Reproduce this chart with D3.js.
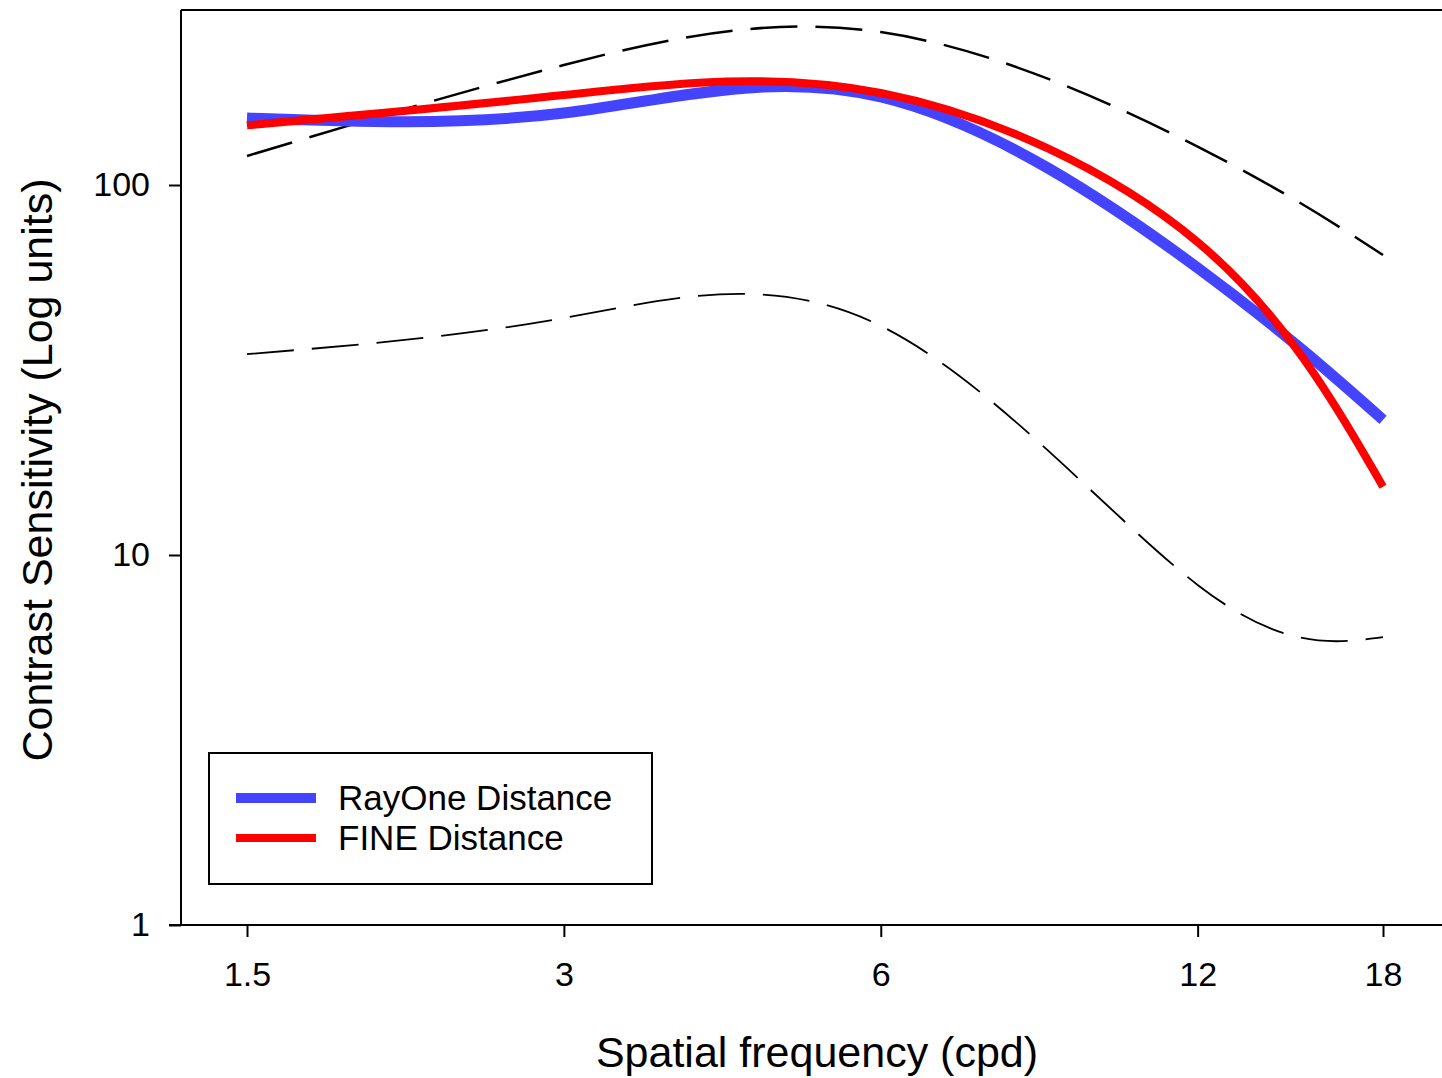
<!DOCTYPE html>
<html>
<head>
<meta charset="utf-8">
<script src="https://cdn.jsdelivr.net/npm/d3@7"></script>
<style>
  body { margin: 0; background: #fff; }
  text { font-family: "Liberation Sans", Arial, sans-serif; fill: #000; }
</style>
</head>
<body>
<div id="container"></div>
<script>
// spatial frequencies (cpd)
const freqs = [1.5, 3, 6, 12, 18];
const rayOne = [151.7, 156.5, 172.9, 59.7, 23.2];
const fine = [145, 175, 177.3, 70.1, 15.3];
const upperBound = [119.8, 211, 259, 127, 64.7];
const lowerBound = [34.9, 43.7, 41.6, 8.3, 6.0];
const yTicks = [1, 10, 100];

const width = 1442, height = 1078;
const margin = { top: 10, right: 0, bottom: 153, left: 181 };
const w = width - margin.left - margin.right;
const h = height - margin.top - margin.bottom;

const svg = d3.select("#container")
  .append("svg")
  .attr("width", width)
  .attr("height", height);

const g = svg.append("g")
  .attr("transform", `translate(${margin.left},${margin.top})`);

const x = d3.scaleLog().domain([1.5, 18]).range([66, 1202]);
const y = d3.scaleLog().domain([1, 100]).range([h, h - 740]);

// frame: left, top, bottom lines
g.append("line").attr("x1", 0).attr("x2", 0).attr("y1", 0).attr("y2", h)
  .attr("stroke", "#000").attr("stroke-width", 2);
g.append("line").attr("x1", 0).attr("x2", w).attr("y1", 0).attr("y2", 0)
  .attr("stroke", "#000").attr("stroke-width", 2);
g.append("line").attr("x1", -12).attr("x2", w).attr("y1", h).attr("y2", h)
  .attr("stroke", "#000").attr("stroke-width", 2);

// x axis
const xAxis = g.append("g")
  .attr("transform", `translate(0,${h})`)
  .call(d3.axisBottom(x).tickValues(freqs).tickFormat(d3.format("")).tickSize(12).tickPadding(25));
xAxis.select(".domain").remove();
xAxis.selectAll("line").attr("stroke-width", 2);
xAxis.selectAll("text").attr("font-size", 34).attr("font-family", "Liberation Sans, Arial, sans-serif");

// y axis
const yAxis = g.append("g")
  .call(d3.axisLeft(y).tickValues(yTicks).tickFormat(d3.format("")).tickSize(12).tickPadding(19));
yAxis.select(".domain").remove();
yAxis.selectAll("line").attr("stroke-width", 2);
yAxis.selectAll("text").attr("font-size", 34).attr("font-family", "Liberation Sans, Arial, sans-serif");

// axis titles
svg.append("text")
  .attr("x", 817).attr("y", 1067)
  .attr("text-anchor", "middle")
  .attr("font-size", 43)
  .text("Spatial frequency (cpd)");

svg.append("text")
  .attr("transform", `translate(52,470) rotate(-90)`)
  .attr("text-anchor", "middle")
  .attr("font-size", 43)
  .text("Contrast Sensitivity (Log units)");

const line = d3.line()
  .x((d, i) => x(freqs[i]))
  .y(d => y(d))
  .curve(d3.curveNatural);

g.append("path").datum(upperBound)
  .attr("d", line).attr("fill", "none")
  .attr("stroke", "#000").attr("stroke-width", 2.5)
  .attr("stroke-dasharray", "47,18");

g.append("path").datum(lowerBound)
  .attr("d", line).attr("fill", "none")
  .attr("stroke", "#000").attr("stroke-width", 1.8)
  .attr("stroke-dasharray", "47,18");

g.append("path").datum(rayOne)
  .attr("d", line).attr("fill", "none")
  .attr("stroke", "#4444ff").attr("stroke-width", 11);

g.append("path").datum(fine)
  .attr("d", line).attr("fill", "none")
  .attr("stroke", "#ff0000").attr("stroke-width", 8);

// legend
const legend = svg.append("g").attr("transform", "translate(209,753)");
legend.append("rect")
  .attr("width", 443).attr("height", 131)
  .attr("fill", "#fff").attr("stroke", "#000").attr("stroke-width", 2);

const legendItems = [
  { label: "RayOne Distance", color: "#4444ff", sw: 10 },
  { label: "FINE Distance", color: "#ff0000", sw: 8 }
];
legendItems.forEach((item, i) => {
  const yy = 45 + i * 40;
  legend.append("line")
    .attr("x1", 27).attr("x2", 107).attr("y1", yy).attr("y2", yy)
    .attr("stroke", item.color).attr("stroke-width", item.sw);
  legend.append("text")
    .attr("x", 129).attr("y", yy + 12)
    .attr("font-size", 35)
    .text(item.label);
});
</script>
</body>
</html>
